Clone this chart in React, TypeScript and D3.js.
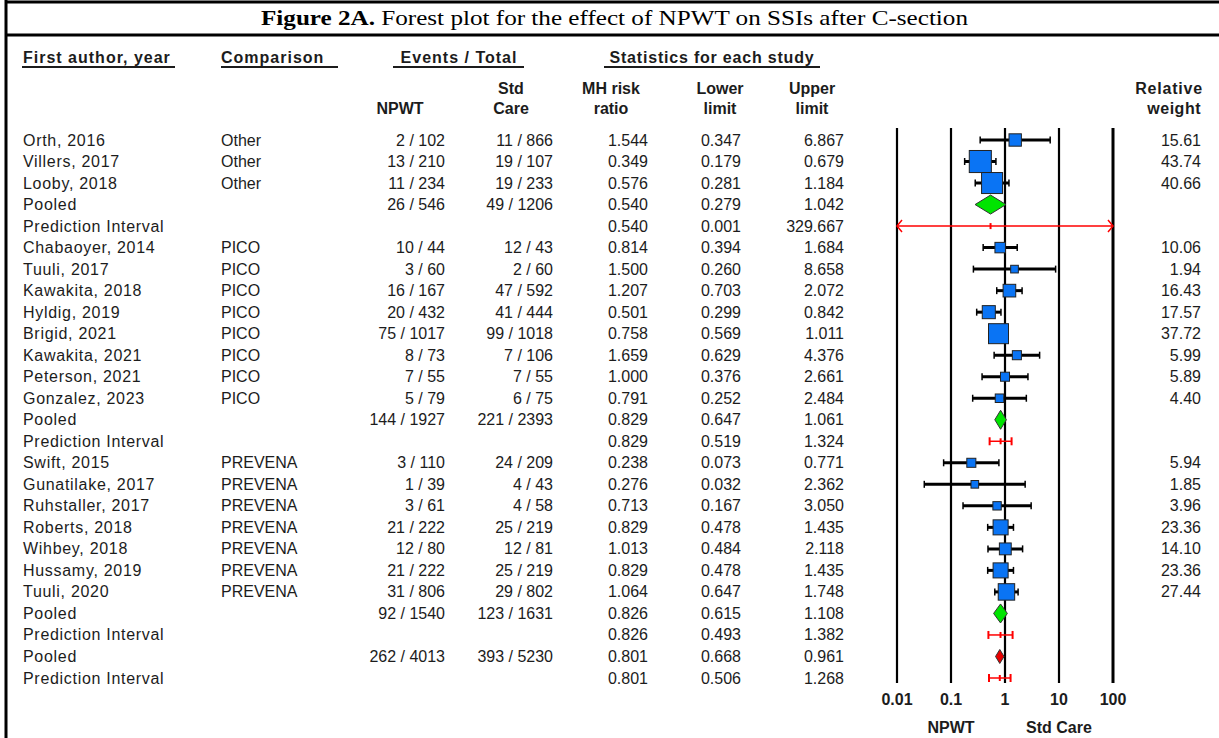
import React from "react";
import * as d3 from "d3";

// rows of the forest plot, top to bottom
const authors = [
  "Orth, 2016", "Villers, 2017", "Looby, 2018", "Pooled", "Prediction Interval",
  "Chabaoyer, 2014", "Tuuli, 2017", "Kawakita, 2018", "Hyldig, 2019", "Brigid, 2021",
  "Kawakita, 2021", "Peterson, 2021", "Gonzalez, 2023", "Pooled", "Prediction Interval",
  "Swift, 2015", "Gunatilake, 2017", "Ruhstaller, 2017", "Roberts, 2018", "Wihbey, 2018",
  "Hussamy, 2019", "Tuuli, 2020", "Pooled", "Prediction Interval", "Pooled", "Prediction Interval",
];
const comparisons = [
  "Other", "Other", "Other", "", "",
  "PICO", "PICO", "PICO", "PICO", "PICO", "PICO", "PICO", "PICO", "", "",
  "PREVENA", "PREVENA", "PREVENA", "PREVENA", "PREVENA", "PREVENA", "PREVENA", "", "", "", "",
];
const npwtCounts = [
  "2 / 102", "13 / 210", "11 / 234", "26 / 546", "",
  "10 / 44", "3 / 60", "16 / 167", "20 / 432", "75 / 1017", "8 / 73", "7 / 55", "5 / 79", "144 / 1927", "",
  "3 / 110", "1 / 39", "3 / 61", "21 / 222", "12 / 80", "21 / 222", "31 / 806", "92 / 1540", "", "262 / 4013", "",
];
const stdCounts = [
  "11 / 866", "19 / 107", "19 / 233", "49 / 1206", "",
  "12 / 43", "2 / 60", "47 / 592", "41 / 444", "99 / 1018", "7 / 106", "7 / 55", "6 / 75", "221 / 2393", "",
  "24 / 209", "4 / 43", "4 / 58", "25 / 219", "12 / 81", "25 / 219", "29 / 802", "123 / 1631", "", "393 / 5230", "",
];
const riskRatios = [
  1.544, 0.349, 0.576, 0.54, 0.54,
  0.814, 1.5, 1.207, 0.501, 0.758, 1.659, 1.0, 0.791, 0.829, 0.829,
  0.238, 0.276, 0.713, 0.829, 1.013, 0.829, 1.064, 0.826, 0.826, 0.801, 0.801,
];
const lowerLimits = [
  0.347, 0.179, 0.281, 0.279, 0.001,
  0.394, 0.26, 0.703, 0.299, 0.569, 0.629, 0.376, 0.252, 0.647, 0.519,
  0.073, 0.032, 0.167, 0.478, 0.484, 0.478, 0.647, 0.615, 0.493, 0.668, 0.506,
];
const upperLimits = [
  6.867, 0.679, 1.184, 1.042, 329.667,
  1.684, 8.658, 2.072, 0.842, 1.011, 4.376, 2.661, 2.484, 1.061, 1.324,
  0.771, 2.362, 3.05, 1.435, 2.118, 1.435, 1.748, 1.108, 1.382, 0.961, 1.268,
];
const weights = [
  15.61, 43.74, 40.66, null, null,
  10.06, 1.94, 16.43, 17.57, 37.72, 5.99, 5.89, 4.4, null, null,
  5.94, 1.85, 3.96, 23.36, 14.1, 23.36, 27.44, null, null, null, null,
];
const rowKinds = [
  "study", "study", "study", "pooled", "pi",
  "study", "study", "study", "study", "study", "study", "study", "study", "pooled", "pi",
  "study", "study", "study", "study", "study", "study", "study", "pooled", "pi", "overall", "pi",
];
const axisTicks = [0.01, 0.1, 1, 10, 100];

const SANS = "'Liberation Sans', Arial, sans-serif";
const INK = "#1c1c1c";
const FS = 16;

const fmt3 = d3.format(".3f");
const fmt2 = d3.format(".2f");

const Txt = ({ x, y, anchor = "start", bold = false, ls = 0, children }: any) => (
  <text x={x} y={y} textAnchor={anchor} fontFamily={SANS} fontSize={FS}
    fontWeight={bold ? "bold" : "normal"} fill={INK} letterSpacing={ls}>
    {children}
  </text>
);

export default function App() {
  const x = d3.scaleLog().domain([0.01, 100]).range([897, 1113]);
  const y = d3.scaleLinear().domain([0, 25]).range([140, 678]);
  const size = d3.scaleLinear().domain([0, 45]).range([7, 22.5]);
  const [dMin, dMax] = x.domain();
  const cx = (v: number) => x(Math.max(dMin, Math.min(dMax, v)));

  // text column right edges
  const colNpwt = 445, colStd = 553, colMh = 648, colLo = 741, colHi = 844, colW = 1201;
  const base = 5.5; // baseline offset from row centre

  return (
    <svg width={1219} height={738} style={{ position: "absolute", left: 0, top: 0, background: "#fff" }}>
      <rect width={1219} height={738} fill="#fff" />
      {/* frame */}
      <line x1={6} x2={1219} y1={2} y2={2} stroke="#000" strokeWidth={3} />
      <line x1={6} x2={1219} y1={35} y2={35} stroke="#000" strokeWidth={3} />
      <line x1={6} x2={6} y1={0} y2={738} stroke="#000" strokeWidth={3} />
      <text x={261} y={25} textLength={707} lengthAdjust="spacingAndGlyphs"
        fontFamily="'Liberation Serif', 'Times New Roman', serif" fontSize={22} fill="#000">
        <tspan fontWeight="bold">Figure 2A.</tspan> Forest plot for the effect of NPWT on SSIs after C-section
      </text>

      {/* group headers */}
      <Txt x={23} y={63} bold ls={1}>First author, year</Txt>
      <Txt x={221} y={63} bold ls={1}>Comparison</Txt>
      <Txt x={459} y={63} anchor="middle" bold ls={1}>Events / Total</Txt>
      <Txt x={712} y={63} anchor="middle" bold ls={0.8}>Statistics for each study</Txt>
      <line x1={22} x2={175} y1={67} y2={67} stroke={INK} strokeWidth={2} />
      <line x1={221} x2={338} y1={67} y2={67} stroke={INK} strokeWidth={2} />
      <line x1={393} x2={524} y1={67} y2={67} stroke={INK} strokeWidth={2} />
      <line x1={604} x2={820} y1={67} y2={67} stroke={INK} strokeWidth={2} />

      <Txt x={400} y={114} anchor="middle" bold>NPWT</Txt>
      <Txt x={511} y={94} anchor="middle" bold>Std</Txt>
      <Txt x={511} y={114} anchor="middle" bold>Care</Txt>
      <Txt x={611} y={94} anchor="middle" bold>MH risk</Txt>
      <Txt x={611} y={114} anchor="middle" bold>ratio</Txt>
      <Txt x={720} y={94} anchor="middle" bold>Lower</Txt>
      <Txt x={720} y={114} anchor="middle" bold>limit</Txt>
      <Txt x={812} y={94} anchor="middle" bold>Upper</Txt>
      <Txt x={812} y={114} anchor="middle" bold>limit</Txt>
      <Txt x={1203} y={94} anchor="end" bold ls={0.8}>Relative</Txt>
      <Txt x={1201} y={114} anchor="end" bold ls={0.5}>weight</Txt>

      {/* table text */}
      {authors.map((a, i) => {
        const ty = y(i) + base;
        return (
          <g key={"t" + i}>
            <Txt x={23} y={ty} ls={0.7}>{a}</Txt>
            <Txt x={221} y={ty}>{comparisons[i]}</Txt>
            <Txt x={colNpwt} y={ty} anchor="end">{npwtCounts[i]}</Txt>
            <Txt x={colStd} y={ty} anchor="end">{stdCounts[i]}</Txt>
            <Txt x={colMh} y={ty} anchor="end">{fmt3(riskRatios[i])}</Txt>
            <Txt x={colLo} y={ty} anchor="end">{fmt3(lowerLimits[i])}</Txt>
            <Txt x={colHi} y={ty} anchor="end">{fmt3(upperLimits[i])}</Txt>
            {weights[i] != null && <Txt x={colW} y={ty} anchor="end">{fmt2(weights[i] as number)}</Txt>}
          </g>
        );
      })}

      {/* reference lines */}
      {axisTicks.map((t, i) => (
        <line key={"v" + t} x1={x(t)} x2={x(t)} y1={128} y2={683} stroke="#000"
          strokeWidth={i === axisTicks.length - 1 ? 3 : 2.2} />
      ))}

      {/* marks */}
      {rowKinds.map((k, i) => {
        const cy = y(i);
        const lo = lowerLimits[i], hi = upperLimits[i], mh = riskRatios[i];
        if (k === "study") {
          const s = size(weights[i] as number);
          return (
            <g key={"m" + i}>
              <line x1={cx(lo)} x2={cx(hi)} y1={cy} y2={cy} stroke="#000" strokeWidth={3} />
              <line x1={cx(lo)} x2={cx(lo)} y1={cy - 3.5} y2={cy + 3.5} stroke="#000" strokeWidth={1.5} />
              <line x1={cx(hi)} x2={cx(hi)} y1={cy - 3.5} y2={cy + 3.5} stroke="#000" strokeWidth={1.5} />
              <rect x={x(mh) - s / 2} y={cy - s / 2} width={s} height={s} fill="#0a74f4" stroke="#222" strokeWidth={1} />
            </g>
          );
        }
        if (k === "pooled" || k === "overall") {
          const h = k === "pooled" ? 9.5 : 7;
          const pts = [[x(lo), cy], [x(mh), cy - h], [x(hi), cy], [x(mh), cy + h]];
          return (
            <polygon key={"m" + i} points={pts.map((p) => p.join(",")).join(" ")}
              fill={k === "pooled" ? "#00e400" : "#e80000"} stroke="#333" strokeWidth={1} />
          );
        }
        // prediction interval
        const x0 = cx(lo), x1 = cx(hi);
        return (
          <g key={"m" + i} stroke="#ff0000" fill="none" strokeWidth={1.5}>
            <line x1={x0} x2={x1} y1={cy} y2={cy} />
            {lo < dMin
              ? <path d={`M${x0 + 5},${cy - 6}L${x0},${cy}L${x0 + 5},${cy + 6}`} />
              : <line x1={x0} x2={x0} y1={cy - 4} y2={cy + 4} strokeWidth={2} />}
            {hi > dMax
              ? <path d={`M${x1 - 5},${cy - 6}L${x1},${cy}L${x1 - 5},${cy + 6}`} />
              : <line x1={x1} x2={x1} y1={cy - 4} y2={cy + 4} strokeWidth={2} />}
            <line x1={x(mh)} x2={x(mh)} y1={cy - 3} y2={cy + 3} strokeWidth={2} />
          </g>
        );
      })}

      {/* axis labels */}
      {axisTicks.map((t) => (
        <Txt key={"a" + t} x={x(t)} y={705} anchor="middle" bold>{d3.format("~g")(t)}</Txt>
      ))}
      <Txt x={x(0.1)} y={733} anchor="middle" bold>NPWT</Txt>
      <Txt x={x(10)} y={733} anchor="middle" bold>Std Care</Txt>
    </svg>
  );
}
